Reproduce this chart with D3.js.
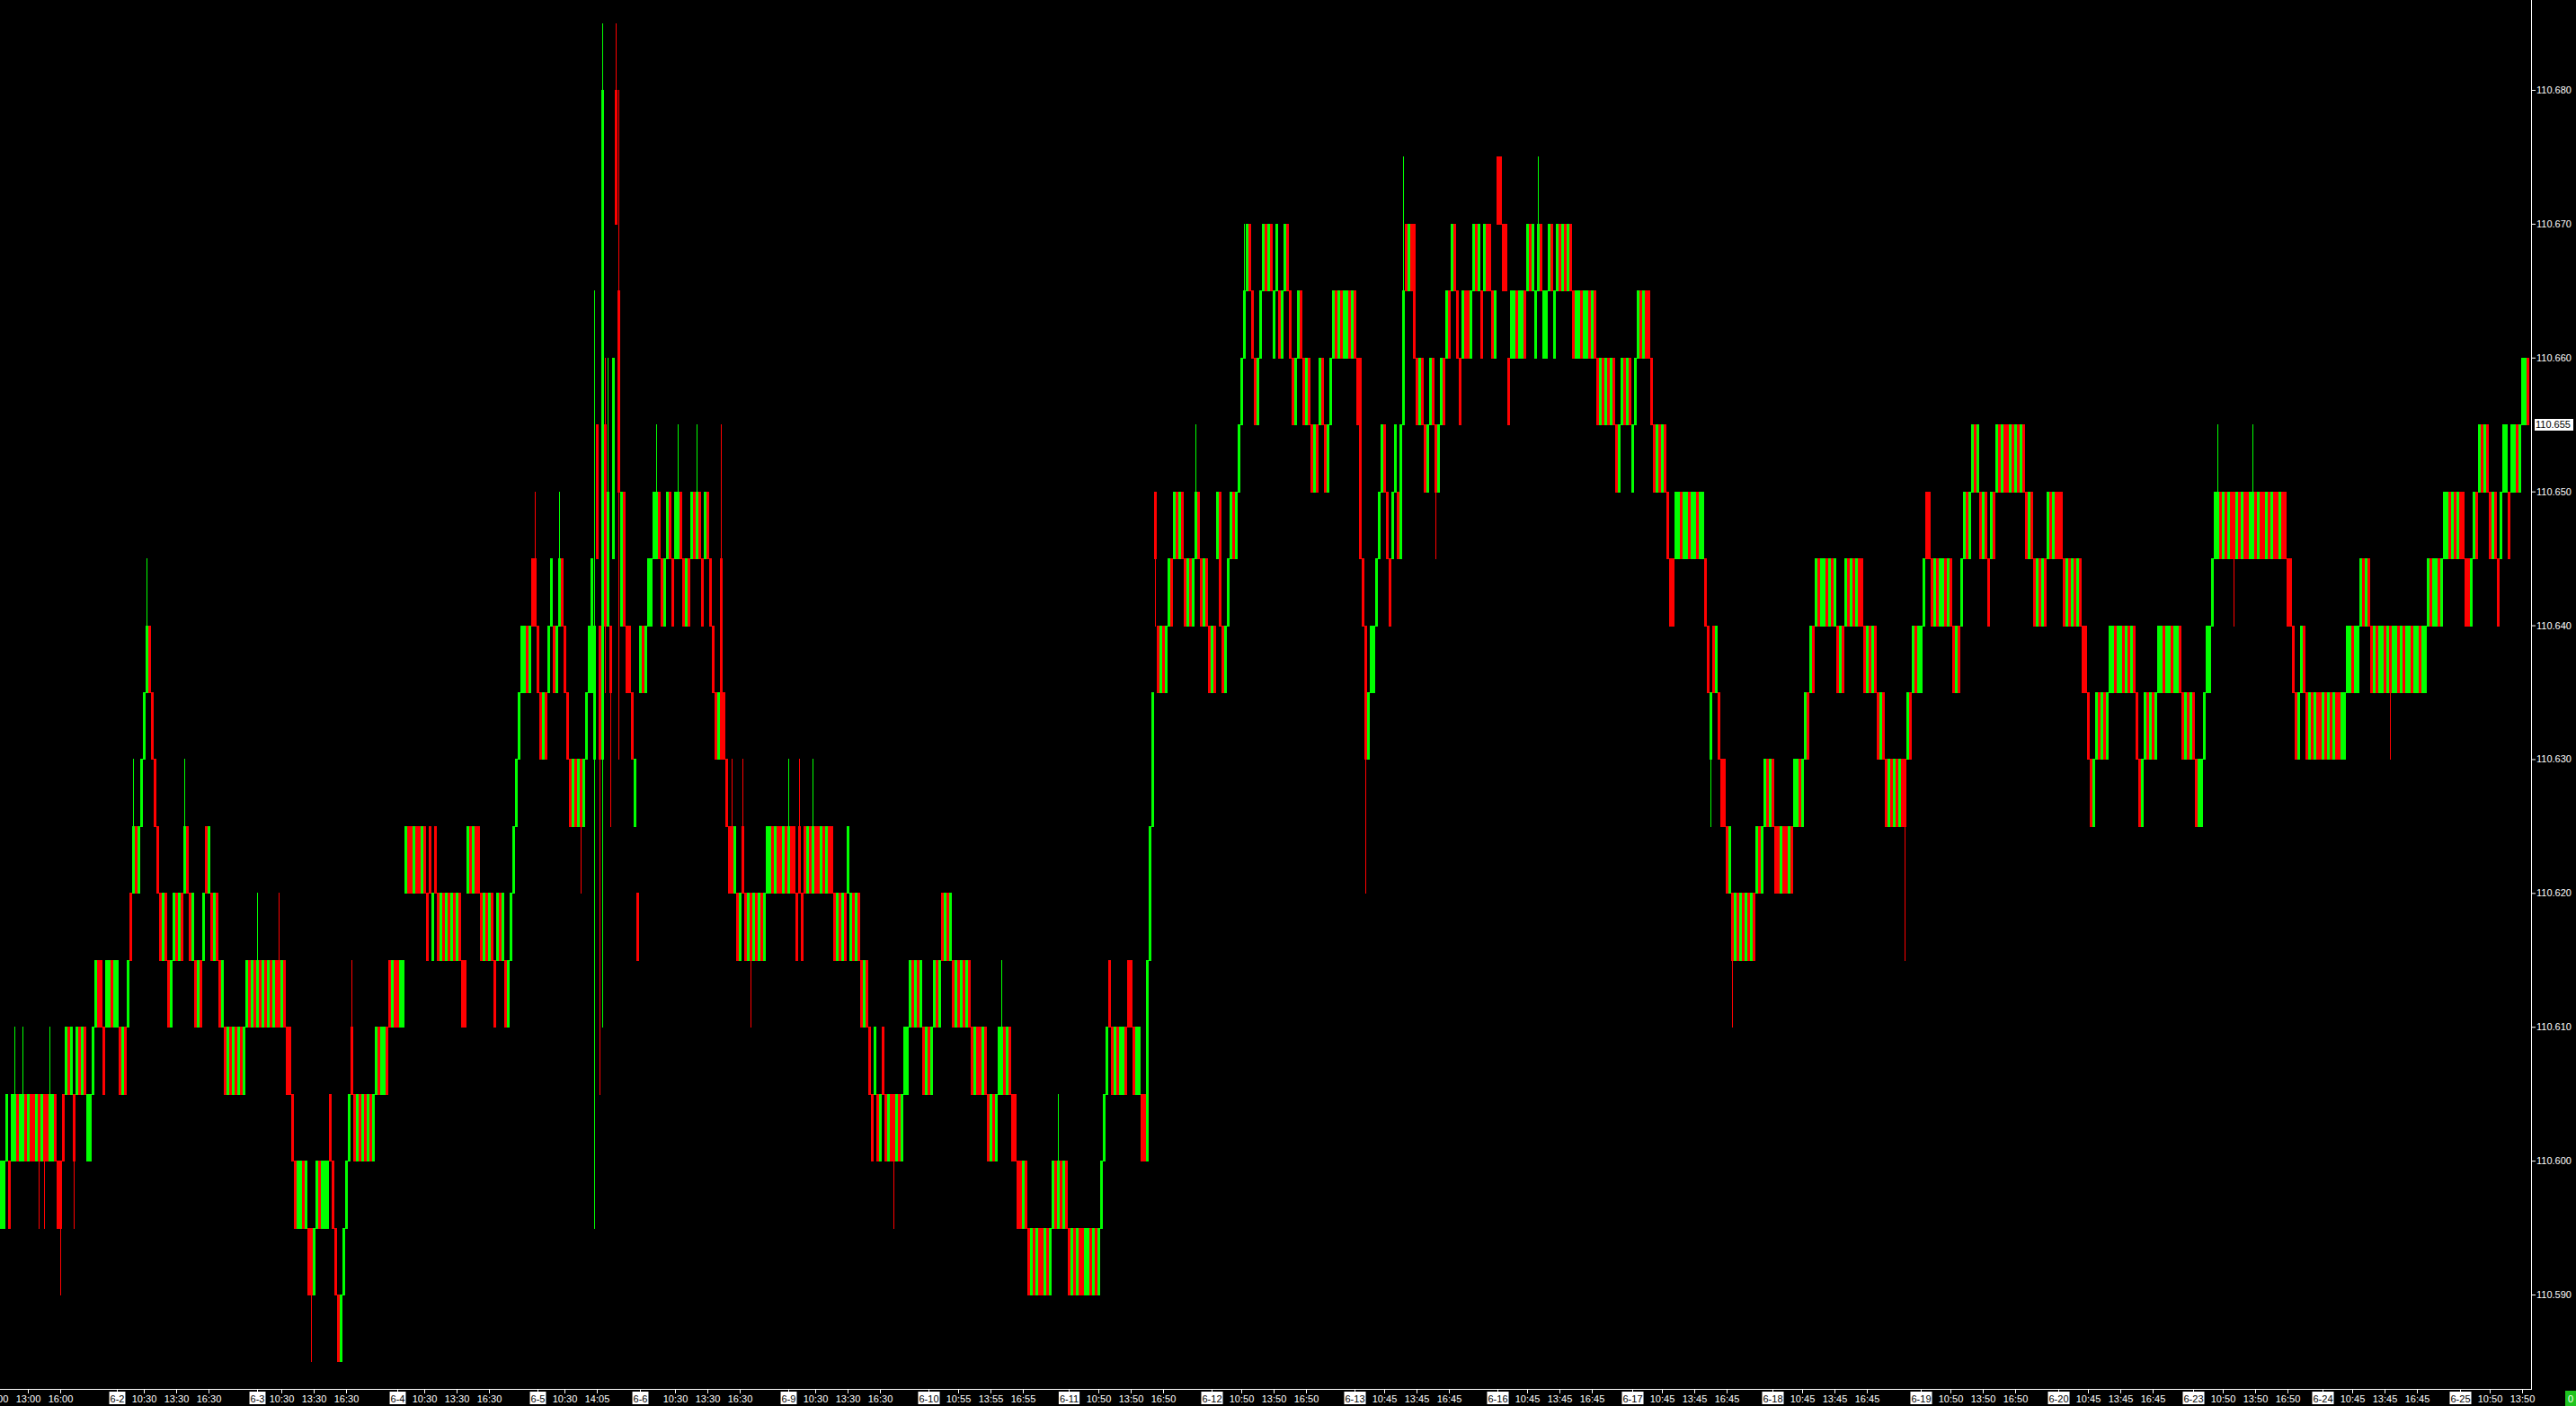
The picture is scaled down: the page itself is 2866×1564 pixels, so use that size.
<!DOCTYPE html>
<html>
<head>
<meta charset="utf-8">
<script src="https://cdn.jsdelivr.net/npm/d3@7"></script>
<style>
  html, body { margin: 0; padding: 0; background: #000; overflow: hidden; }
  svg { display: block; }
  text { font-family: "Liberation Sans", Arial, sans-serif; font-size: 11px; }
</style>
</head>
<body>
<div id="chart"></div>
<script>
// price levels, 0.005 apart; candle strings refer to them by letter a..u
const levels = [110.585, 110.590, 110.595, 110.600, 110.605, 110.610, 110.615,
  110.620, 110.625, 110.630, 110.635, 110.640, 110.645, 110.650, 110.655,
  110.660, 110.665, 110.670, 110.675, 110.680, 110.685];

// one token per bar: open letter, close letter
// ^ = high one level above body, v = low one level below, /HL = explicit high + low
const candlesA = `
cd cd de dc de
de^ ed de de^ ed de ed ed de edv de edv ed de^ de ed
dc dcv ed
ef fe ef edv ef fe ef fe de de
ef fg gf gf
fe fg fg gf fg fg
fe ef fe
fg hg
hi^ ih hi
ij jk kl^ lk kj ji ih
hg gh hg gf fg
gh hg
gh hg hi^ ih hg gh gf fg gf gh ih hi hg gh hg gf fg
fe ef fe ef fe ef fe ef
fg gf fg gf fg^ gf fg gf fg gf fg gf gf^ fg gf fe
fe ed
dc cd cd dc cd cb cbv bc cd dc cd cd cd
ed dc
cb ba ab bc cd
de fe^ ed de ed de ed de ed de
ef fe ef ef fe gf fg gf gf fg fg
hi ih ih hi ih ih hi ih hg ih gh ih hg gh hg gh hg gh hg gh hg gf gf hi ih hi ih ih hg gh hg gh hg gf gh hg gh gf fg gh hi
ij jk kl kl lk kl ml ml^ lk
kj jk kj kl lm lk kl lm^ ml lk kj ji
ij ji ij jiv ij jk kl
km jl/qc om lj/le jt/uf ol/pk ln/pl lk/li mp tr/ur qn/tj ln nl lk
lk kj ij hg kl lk kl lm
lm mn mn^ nm ml lm mn nm ml mn mn^ nm ml lm ml mn nm mn^ nm ml mn nm
ml lk kj jk mj/oj kj
ji ih ih^ hi hg gh ih^ hg gh hgv gh hg gh hg gh hi
hi ih hi ih ih hi ih hi^ ih ih hg ih^ hg ih hi ih hi^ ih ih hi ih hi ih ih hg gh hg gh hg hi gh hg`;

const candlesB = `
gh hg
gf fg gf
fe ed ef ed de fe ed
de ed edv de ed de
ef ef
fg gf fg gf fg fe ef fe ef fg
gf fg hg gh hg gh gf
fg gf fg gf fg gf fe ef fe fe
ef fe ed de ed de ef ef^ fe ef fe ed ed
dc dc cd
dc cb bc cb bc cb cb bc cb bc cd dc cd^ dc cd dc cb bc cb bc cb cb bc bc cb bc cb bc cd
de ef
gf fe ef fe ef ef fe gf gf fe ef ef ed ed
dg gi ik
nmv lk kl lk kl lm ml
mn nm mn nm ml lm ml lm mn^ nm ml lm ml lk kl lk mn nl lk kl lm mn nm mn
no op pq^ qr rq qp po op pq
qr rq qr rq pq qr qp pq qr rq qp po op pq qp po op po
on no on op po on no op pq
qp pq qp pq pq qp pq qp po
pm ml lj/lh jk kl kl lm
mn no on nm ml mn no nm
mo oq/so
rq qr rq rp po op po on no op po onv no op po pq
qp qr rq qp po pq qp qp pq qr rq qr qp qr rq rq qp pq sr sr rq rq
po pq pq qp pq pq qp qr rq qr pq qr^ rq pq pq qr rq pq qr rq qr rq qr rq qp pq
pq qp pq pq qp pq qp po op po op po op po
on no op po op po no op
pq qp pq qp qp po on no on no on
nm ml ml mn mn nm mn mn nm mn mn nm mn`;

const candlesC = `
mn
ml lk jkv lk kl kj ji ji
ih hi hgv gh hg gh hg gh hg gh hg hi ih hi
ij ji ij ji ih ih hi ih ih hi ih ij ij ji ij
jk kj kl lk
lm ml lm lm ml lm ml lm lk kl lk lm ml lm ml lm ml ml lk kl lk kl lk kj
jk kj ji ij ji ij ji ij ji ji/jg jk kj
kl lk kl kl lm
nm nm ml lm ml lm lm ml lm ml lk kl lk lm mn nm mn
no on no nm mn nm ml mn nm no on no on on no on no on no on nm mn nm
ml lm ml lm ml mn nm mn nm nm nm ml lm ml lm ml lm ml
lk lk kj ji ij jk kj jk kj jk kl
kl lk kl kl lk kl lk kl lk
kj ji ij jk kj jk kj
jk kl kl lk kl kl lk kl kl lk
kj jk kj jk kj ji ij ij jk kl
kl lm
mn mn^ nm mn nm mn nm nmv mn nm mn nm nm mn mn^ nm mn nm nm mn nm mn nm nm mn nm nm
ml ml lk kj jk kl lk kj
jk kj jk kj kj jk kj jk kj jk kj kj jk jk
kl kl lk kl kl lm
ml lm ml lk
kl lk kl kl lk kl lkv kl kl lk kl lk kl kl lk kl kl lk kl kl
lm ml lm lm ml lm mn
mn nm mn nm mn nm nm ml
ml lm mn nm
no on no on nm mn nm ml mn no
no nm no no on no
op op po`;

const priceTicks = [110.590, 110.600, 110.610, 110.620, 110.630, 110.640,
  110.650, 110.660, 110.670, 110.680];

// time axis labels and the bar each one sits on
const axisLabels = ['10:00', '13:00', '16:00',
  '6-2', '10:30', '13:30', '16:30', '6-3', '10:30', '13:30', '16:30',
  '6-4', '10:30', '13:30', '16:30', '6-5', '10:30', '14:05',
  '6-6', '10:30', '13:30', '16:30', '6-9', '10:30', '13:30', '16:30',
  '6-10', '10:55', '13:55', '16:55', '6-11', '10:50', '13:50', '16:50',
  '6-12', '10:50', '13:50', '16:50', '6-13', '10:45', '13:45', '16:45',
  '6-16', '10:45', '13:45', '16:45', '6-17', '10:45', '13:45', '16:45',
  '6-18', '10:45', '13:45', '16:45', '6-19', '10:50', '13:50', '16:50',
  '6-20', '10:45', '13:45', '16:45', '6-23', '10:50', '13:50', '16:50',
  '6-24', '10:45', '13:45', '16:45', '6-25', '10:50', '13:50'];
const axisBars = [-2, 10, 22,
  43, 53, 65, 77, 95, 104, 116, 128,
  147, 157, 169, 181, 199, 209, 221,
  237, 250, 262, 274, 292, 302, 314, 326,
  344, 355, 367, 379, 396, 407, 419, 431,
  449, 460, 472, 484, 502, 513, 525, 537,
  555, 566, 578, 590, 605, 616, 628, 640,
  657, 668, 680, 692, 712, 723, 735, 747,
  763, 774, 786, 798, 813, 824, 836, 848,
  861, 872, 884, 896, 912, 923, 935];

const width = 2866, height = 1564;
const axisX = 2816, axisY = 1545;
const green = '#00ff00', red = '#ff0000';

function parseCandles(str) {
  const abc = 'abcdefghijklmnopqrstu';
  return str.trim().split(/\s+/).map((t) => {
    const o = abc.indexOf(t[0]), c = abc.indexOf(t[1]);
    let hi = Math.max(o, c), lo = Math.min(o, c);
    if (t.includes('/')) {
      const s = t.split('/')[1];
      hi = abc.indexOf(s[0]);
      lo = abc.indexOf(s[1]);
    }
    if (t.includes('^')) hi += 1;
    if (t.includes('v')) lo -= 1;
    return { open: levels[o], close: levels[c], high: levels[hi], low: levels[lo] };
  });
}

const data = [].concat(parseCandles(candlesA), parseCandles(candlesB), parseCandles(candlesC));

const svg = d3.select('#chart').append('svg')
  .attr('width', width)
  .attr('height', height)
  .style('background', '#000');

const x = d3.scaleBand()
  .domain(d3.range(data.length))
  .range([0, data.length * 3]);

const y = d3.scaleLinear()
  .domain([110.590, 110.680])
  .range([1440, 100]);

// candles
const bars = svg.append('g').attr('shape-rendering', 'crispEdges');
const color = (d) => (d.close >= d.open ? green : red);

bars.selectAll('.wick')
  .data(data)
  .join('rect')
  .attr('class', 'wick')
  .attr('x', (d, i) => x(i) + 1)
  .attr('width', 1)
  .attr('y', (d) => Math.round(y(d.high)))
  .attr('height', (d) => Math.round(y(d.low)) - Math.round(y(d.high)) + 1)
  .attr('fill', color);

bars.selectAll('.body')
  .data(data)
  .join('rect')
  .attr('class', 'body')
  .attr('x', (d, i) => x(i))
  .attr('width', x.bandwidth())
  .attr('y', (d) => Math.round(y(Math.max(d.open, d.close))))
  .attr('height', (d) => Math.round(y(Math.min(d.open, d.close))) - Math.round(y(Math.max(d.open, d.close))) + 1)
  .attr('fill', color);

// frame lines
svg.append('line')
  .attr('x1', axisX + 0.5).attr('x2', axisX + 0.5)
  .attr('y1', 0).attr('y2', axisY + 0.5)
  .attr('stroke', '#fff');
svg.append('line')
  .attr('x1', 0).attr('x2', axisX + 1)
  .attr('y1', axisY + 0.5).attr('y2', axisY + 0.5)
  .attr('stroke', '#fff');

// price axis
const yAxis = svg.append('g')
  .attr('transform', 'translate(' + (axisX + 1) + ',0)')
  .call(d3.axisRight(y).tickValues(priceTicks).tickSize(4).tickSizeOuter(0).tickPadding(1)
    .tickFormat(d3.format('.3f')));
yAxis.select('.domain').remove();
yAxis.selectAll('line').attr('stroke', '#fff');
yAxis.selectAll('text').attr('fill', '#fff').style('font-size', '11px');

// current price box
const last = data[data.length - 1].close;
svg.append('rect')
  .attr('x', axisX + 4).attr('y', Math.round(y(last)) - 6)
  .attr('width', 43).attr('height', 13)
  .attr('fill', '#fff');
svg.append('text')
  .attr('x', axisX + 5).attr('y', Math.round(y(last)))
  .attr('dy', '0.35em')
  .attr('fill', '#000')
  .text(d3.format('.3f')(last));

// time axis
const tickName = new Map(axisBars.map((b, i) => [b, axisLabels[i]]));
const xAxis = svg.append('g')
  .attr('transform', 'translate(0,' + (axisY + 1) + ')')
  .call(d3.axisBottom(x).tickValues(axisBars.filter((b) => b >= 0)).tickSize(4).tickPadding(2)
    .tickSizeOuter(0).tickFormat((b) => tickName.get(b)));
xAxis.select('.domain').remove();
xAxis.selectAll('line').attr('stroke', '#fff');
xAxis.selectAll('text').attr('fill', '#fff').style('font-size', '11px');

// label cut off at the left edge
xAxis.append('text')
  .attr('x', x.step() * axisBars[0] + 1.5)
  .attr('y', 6)
  .attr('dy', '0.71em')
  .attr('text-anchor', 'middle')
  .attr('fill', '#fff')
  .text(axisLabels[0]);

// white boxes behind the date labels
xAxis.selectAll('.tick').each(function (b) {
  if (!tickName.get(b).includes('-')) return;
  const g = d3.select(this);
  const t = g.select('text');
  const bb = t.node().getBBox();
  g.insert('rect', 'text')
    .attr('x', bb.x - 1).attr('y', 2)
    .attr('width', bb.width + 2).attr('height', 14)
    .attr('fill', '#fff');
  t.attr('fill', '#000');
});

// small status box, bottom right
svg.append('rect')
  .attr('x', 2854).attr('y', 1547)
  .attr('width', 12).attr('height', 17)
  .attr('fill', '#1fc41f');
svg.append('text')
  .attr('x', 2860).attr('y', 1556)
  .attr('dy', '0.35em')
  .attr('text-anchor', 'middle')
  .attr('fill', '#fff')
  .text('0');
</script>
</body>
</html>
